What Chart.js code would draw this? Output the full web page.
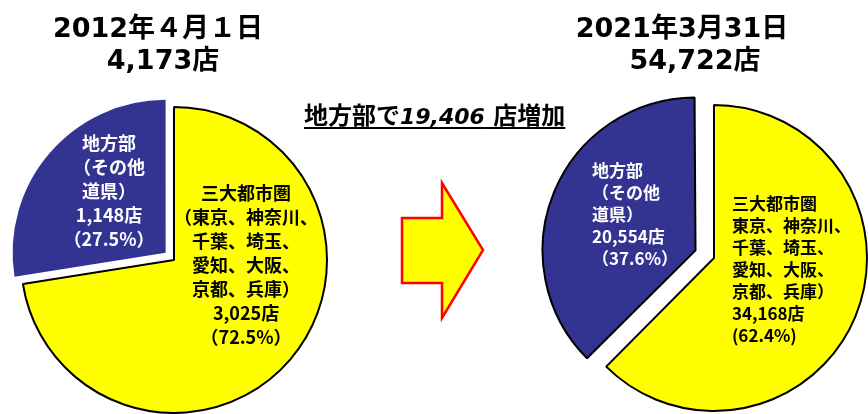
<!DOCTYPE html>
<html lang="ja">
<head>
<meta charset="utf-8">
<script src="https://cdn.jsdelivr.net/npm/chart.js@4.4.1/dist/chart.umd.min.js"></script>
<style>
html, body { margin: 0; padding: 0; width: 868px; height: 414px; overflow: hidden; background: #fff; }
body { position: relative; font-family: "DejaVu Sans", "Noto Sans CJK JP", sans-serif; color: #000; }
.box { position: absolute; top: 0; width: 348px; height: 414px; }
.ttl { position: absolute; font-weight: bold; font-size: 27px; line-height: 32px; white-space: nowrap; transform: translateX(-50%); }
#diff { position: absolute; left: 304px; top: 102px; font-weight: bold; font-size: 24px; line-height: 28px; white-space: nowrap;
        text-decoration: underline; text-decoration-thickness: 2px; text-underline-offset: 3px; }
#diff i { font-style: italic; font-size: 22px; }
</style>
</head>
<body>
<div class="box" style="left:0"><canvas id="pie2012"></canvas></div>
<div class="box" style="left:540px"><canvas id="pie2021"></canvas></div>

<div class="ttl" id="t2012a" style="left:158px;top:12px"></div>
<div class="ttl" id="t2012b" style="left:163px;top:44px"></div>
<div class="ttl" id="t2021a" style="left:682px;top:12px"></div>
<div class="ttl" id="t2021b" style="left:695px;top:44px"></div>
<div id="diff"></div>

<svg width="868" height="414" style="position:absolute;left:0;top:0;pointer-events:none">
  <polygon points="402,218 442,218 442,183 483,250 442,318 442,283 402,283"
           fill="#ffff00" stroke="#ff0000" stroke-width="2.5" stroke-linejoin="miter"/>
</svg>

<script>
const categories = ['三大都市圏', '地方部'];
const stores2012 = [3025, 1148];
const stores2021 = [34168, 20554];
const lines2012 = [
    ['三大都市圏', '（東京、神奈川、', '千葉、埼玉、', '愛知、大阪、', '京都、兵庫）', '3,025店', '（72.5%）'],
    ['地方部', '（その他', '道県）', '1,148店', '（27.5%）']
];
const lines2021 = [
    ['三大都市圏', '東京、神奈川、', '千葉、埼玉、', '愛知、大阪、', '京都、兵庫）', '34,168店', '(62.4%)'],
    ['地方部', '（その他', '道県）', '20,554店', '（37.6%）']
];
const titles2012 = ['2012年４月１日', '4,173店'];
const titles2021 = ['2021年3月31日', '54,722店'];
const increase = '19,406';

const yellow = '#ffff00';
const navy = '#333391';

document.getElementById('t2012a').textContent = titles2012[0];
document.getElementById('t2012b').textContent = titles2012[1];
document.getElementById('t2021a').textContent = titles2021[0];
document.getElementById('t2021b').textContent = titles2021[1];
document.getElementById('diff').innerHTML = '地方部で<i>' + increase + '</i> 店増加';

// text block inside each slice, placed relative to the slice's own centre
const sliceText = {
    id: 'sliceText',
    afterDatasetsUpdate(chart) {
        // an offset slice gets drawn a bit bigger, keep it the same size as the other one
        const meta = chart.getDatasetMeta(0);
        const r = meta.controller.outerRadius;
        meta.data.forEach(a => {
            const span = a.endAngle - a.startAngle;
            const fix = 1 - Math.sin(Math.min(Math.PI, span));
            a.outerRadius = r - (a.options.offset || 0) / 4 * fix;
        });
    },
    afterDatasetsDraw(chart, args, opts) {
        const ctx = chart.ctx;
        const meta = chart.getDatasetMeta(0);
        const r = meta.controller.outerRadius;
        meta.data.forEach((a, i) => {
            const mid = (a.startAngle + a.endAngle) / 2;
            const shift = (a.options.offset || 0) / 4;
            const cx = a.x + Math.cos(mid) * shift;
            const cy = a.y + Math.sin(mid) * shift;
            const ang = opts.angle[i] * Math.PI / 180;
            const x = cx + Math.sin(ang) * r * opts.dist[i];
            const y = cy - Math.cos(ang) * r * opts.dist[i];
            const lines = opts.lines[i];
            ctx.save();
            ctx.font = opts.font;
            ctx.fillStyle = opts.color[i];
            ctx.textAlign = opts.align[i];
            ctx.textBaseline = 'middle';
            lines.forEach((t, k) => {
                ctx.fillText(t, x, y + (k - (lines.length - 1) / 2) * opts.lineHeight);
            });
            ctx.restore();
        });
    }
};

new Chart(document.getElementById('pie2012'), {
    type: 'pie',
    data: {
        labels: categories,
        datasets: [{
            data: stores2012,
            backgroundColor: [yellow, navy],
            borderColor: ['#000', navy],
            borderWidth: [2, 0],
            offset: [0, 44]
        }]
    },
    options: {
        responsive: true,
        maintainAspectRatio: false,
        animation: false,
        radius: 153,
        layout: { padding: { top: 106 } },
        plugins: {
            legend: { display: false },
            tooltip: { enabled: false },
            sliceText: {
                lines: lines2012,
                angle: [94, 317.6],
                dist: [0.472, 0.549],
                align: ['center', 'center'],
                color: ['#000', '#fff'],
                font: 'bold 18px "Noto Sans CJK JP"',
                lineHeight: 24
            }
        }
    },
    plugins: [sliceText]
});

new Chart(document.getElementById('pie2021'), {
    type: 'pie',
    data: {
        labels: categories,
        datasets: [{
            data: stores2021,
            backgroundColor: [yellow, navy],
            borderColor: ['#000', '#000'],
            borderWidth: [2, 2],
            offset: [0, 80]
        }]
    },
    options: {
        responsive: true,
        maintainAspectRatio: false,
        animation: false,
        radius: 153,
        layout: { padding: { top: 102 } },
        plugins: {
            legend: { display: false },
            tooltip: { enabled: false },
            sliceText: {
                lines: lines2021,
                angle: [123.7, 288.9],
                dist: [0.141, 0.715],
                align: ['left', 'left'],
                color: ['#000', '#fff'],
                font: 'bold 17px "Noto Sans CJK JP"',
                lineHeight: 22
            }
        }
    },
    plugins: [sliceText]
});
</script>
</body>
</html>
